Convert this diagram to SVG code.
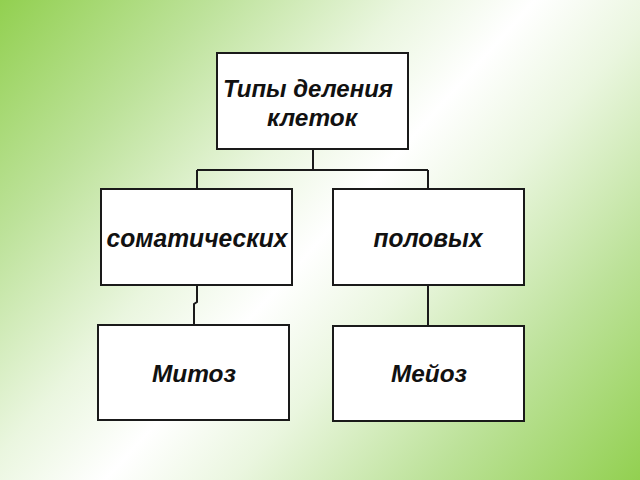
<svg xmlns="http://www.w3.org/2000/svg" width="640" height="480" viewBox="0 0 640 480">
<defs>
<linearGradient id="bg" gradientUnits="userSpaceOnUse" x1="0" y1="0" x2="594" y2="532">
<stop offset="0" stop-color="#92d050"/>
<stop offset="0.2" stop-color="#bde29a"/>
<stop offset="0.38" stop-color="#eaf6df"/>
<stop offset="0.5" stop-color="#ffffff"/>
<stop offset="0.62" stop-color="#eaf6df"/>
<stop offset="0.8" stop-color="#bde29a"/>
<stop offset="1" stop-color="#92d050"/>
</linearGradient>
<style>
.box{fill:#ffffff;stroke:#1a1a1a;stroke-width:2}
.lbl{font-family:"Liberation Sans",Arial,sans-serif;font-weight:bold;font-style:italic;font-size:23px;fill:#111111;text-anchor:middle}
.big{font-size:25px}
.top{font-size:24px}
.con{fill:none;stroke:#1a1a1a;stroke-width:2}
</style>
</defs>
<rect x="0" y="0" width="640" height="480" fill="url(#bg)"/>
<g id="connectors">
<path class="con" d="M313 149 V170 M197 170 H428 M197 170 V189 M428 170 V189"/>
<path class="con" d="M197 285 V302 L194 304 V325"/>
<path class="con" d="M428 285 V326"/>
</g>
<g id="root">
<rect class="box" x="217" y="53" width="191" height="96"/>
<text class="lbl top" x="308" y="97" textLength="170" lengthAdjust="spacingAndGlyphs">Типы деления</text>
<text class="lbl top" x="312" y="126" textLength="90" lengthAdjust="spacingAndGlyphs">клеток</text>
</g>
<g id="somatic">
<rect class="box" x="101" y="189" width="191" height="96"/>
<text class="lbl big" x="197" y="247" textLength="181" lengthAdjust="spacingAndGlyphs">соматических</text>
</g>
<g id="sex">
<rect class="box" x="333" y="189" width="191" height="96"/>
<text class="lbl big" x="428" y="247" textLength="109" lengthAdjust="spacingAndGlyphs">половых</text>
</g>
<g id="mitosis">
<rect class="box" x="98" y="325" width="191" height="95"/>
<text class="lbl" x="194" y="382" textLength="84" lengthAdjust="spacingAndGlyphs">Митоз</text>
</g>
<g id="meiosis">
<rect class="box" x="333" y="326" width="191" height="95"/>
<text class="lbl" x="429" y="382" textLength="76" lengthAdjust="spacingAndGlyphs">Мейоз</text>
</g>
</svg>
